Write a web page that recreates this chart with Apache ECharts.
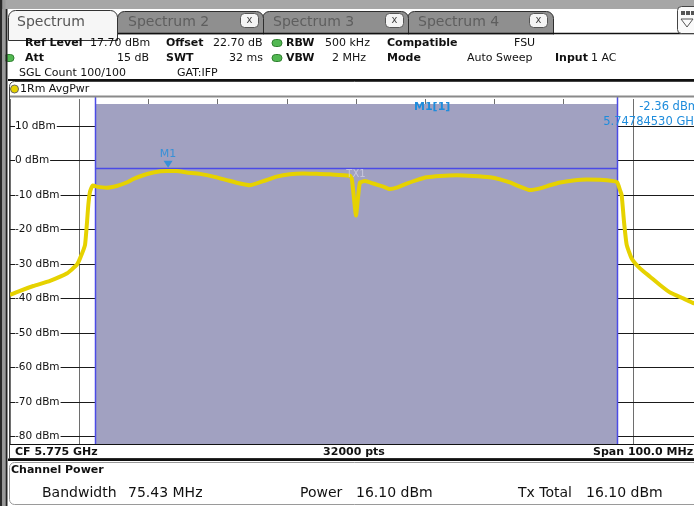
<!DOCTYPE html>
<html><head><meta charset="utf-8">
<script src="https://cdn.jsdelivr.net/npm/echarts@6/dist/echarts.min.js"></script>
<style>html,body{margin:0;padding:0;background:#fff}#c{width:694px;height:506px}</style>
</head><body><div id="c"></div>
<script>
// ---------- data ----------
const centerFreqGHz = 5.775;
const spanMHz = 100;
const refLevelDbm = 17.7;
const bottomLevelDbm = -82.3;
const yTickValues = [10, 0, -10, -20, -30, -40, -50, -60, -70, -80];
const channelBandwidthMHz = 75.43;
const markerFreqGHz = 5.74784530;
const markerLevelDbm = -2.36;
// trace: frequency offset from CF (MHz) and level (dBm)
const traceFreqMHz = [-50, -48.55, -46.63, -44.22, -41.81, -40.36, -39.88, -39.16, -38.68, -38.44,
  -38.05, -37.72, -37.47, -36.03, -34.58, -33.14, -32.18, -30.74, -29.29, -27.36,
  -25.91, -24.47, -22.54, -20.62, -18.69, -16.76, -15.32, -13.4, -11.46, -9.54,
  -7.62, -5.68, -3.76, -1.84, -0.87, -0.62, -0.39, 0, 0.33, 0.58,
  1.30, 2.50, 3.95, 4.91, 5.88, 7.33, 8.77, 10.22, 12.14, 14.55,
  16.95, 19.36, 20.81, 22.25, 23.7, 25.14, 26.59, 28.03, 29.48, 31.4,
  33.34, 35.26, 37.18, 37.76, 38.15, 38.39, 38.73, 39.12, 39.84, 41.04,
  42.49, 43.93, 45.38, 47.3, 48.84, 50];
const traceLevelDbm = [-39.1, -37.9, -36.5, -35.0, -32.9, -30.4, -28.5, -24.6, -13.0, -9.2,
  -7.4, -7.5, -7.7, -8.0, -7.5, -6.5, -5.5, -4.4, -3.6, -3.2,
  -3.2, -3.6, -4.0, -4.8, -5.8, -6.8, -7.3, -6.1, -4.8, -4.1,
  -3.9, -4.0, -4.1, -4.4, -4.6, -5.3, -9.2, -16.1, -10.1, -6.5,
  -6.1, -6.8, -7.7, -8.4, -8.0, -6.8, -5.8, -5.0, -4.6, -4.4,
  -4.6, -5.0, -5.6, -6.5, -7.7, -8.7, -8.2, -7.3, -6.5, -5.9,
  -5.6, -5.7, -6.1, -6.5, -8.7, -10.1, -17.9, -24.6, -28.5, -31.4,
  -33.8, -36.2, -38.4, -40.1, -41.5, -41.8];

// ---------- styles ----------
const FONT = '"DejaVu Sans", Verdana, sans-serif';
const YELLOW = '#e6d200';
const SHADE = '#a1a1c1';
const BLUE_LINE = '#4b4be6';
const MARK_BLUE = '#1e8cdc';

const traceData = traceFreqMHz.map((f, i) => [f, traceLevelDbm[i]]);
const markerOffsetMHz = (markerFreqGHz - centerFreqGHz) * 1000;

const chart = echarts.init(document.getElementById('c'), null, {renderer: 'canvas'});

function T(text, x, y, o) {
  o = o || {};
  return {type: 'text', x: x, y: y, z: o.z || 20, silent: true,
    style: {text: text, font: (o.bold ? 'bold ' : '') + (o.size || 11) + 'px ' + FONT,
      fill: o.color || '#111', align: o.align || 'left', textAlign: o.align || 'left',
      verticalAlign: 'middle', textVerticalAlign: 'middle'}};
}
function R(x, y, w, h, fill, o) {
  o = o || {};
  return {type: 'rect', z: o.z || 10, silent: true, shape: {x: x, y: y, width: w, height: h, r: o.r || 0},
    style: {fill: fill, stroke: o.stroke || null, lineWidth: o.lw || 1}};
}
function L(x1, y1, x2, y2, color, lw, z) {
  return {type: 'line', z: z || 12, silent: true, shape: {x1: x1, y1: y1, x2: x2, y2: y2},
    style: {stroke: color, lineWidth: lw || 1}};
}
function dot(cx, cy) {
  return R(cx - 5, cy - 3.5, 10, 7, '#52b852', {r: 3.5, stroke: '#2f7f2f', z: 15});
}

const elements = [
  // top band & tab bar
  R(0, 0, 694, 9, '#a6a6a6', {z: 5}),
  R(0, 9, 694, 25, '#ffffff', {z: 5}),
  // inactive tabs
  R(407.5, 11.5, 146, 26, '#8f8f8f', {r: [7, 7, 0, 0], stroke: '#2e2e2e', z: 6}),
  R(262.5, 11.5, 146, 26, '#8f8f8f', {r: [7, 7, 0, 0], stroke: '#2e2e2e', z: 7}),
  R(117.5, 11.5, 146, 26, '#8f8f8f', {r: [7, 7, 0, 0], stroke: '#2e2e2e', z: 8}),
  L(117, 33.5, 694, 33.5, '#111', 1.5, 9),
  // active tab
  R(8.5, 10.5, 109, 30, '#f6f6f6', {r: [7, 7, 0, 0], stroke: '#333', z: 9}),
  T('Spectrum', 17, 22, {size: 14, color: '#555'}),
  T('Spectrum 2', 128, 22, {size: 14, color: '#5e5e5e'}),
  T('Spectrum 3', 273, 22, {size: 14, color: '#5e5e5e'}),
  T('Spectrum 4', 418, 22, {size: 14, color: '#5e5e5e'}),
  // close buttons
  R(240.5, 13.5, 18, 14, '#f4f4f4', {r: 4, stroke: '#555', z: 15}), T('x', 249.5, 20, {size: 10, align: 'center', color: '#444'}),
  R(385.5, 13.5, 18, 14, '#f4f4f4', {r: 4, stroke: '#555', z: 15}), T('x', 394.5, 20, {size: 10, align: 'center', color: '#444'}),
  R(529.5, 13.5, 18, 14, '#f4f4f4', {r: 4, stroke: '#555', z: 15}), T('x', 538.5, 20, {size: 10, align: 'center', color: '#444'}),
  // right icon
  R(677.5, 6.5, 22, 27, '#fafafa', {r: 4, stroke: '#444', z: 15}),
  R(681, 11, 4, 4, '#555', {z: 16}), R(686, 11, 4, 4, '#555', {z: 16}), R(691, 11, 4, 4, '#555', {z: 16}),
  {type: 'polygon', z: 16, silent: true, shape: {points: [[681, 19], [693, 19], [687, 27]]}, style: {fill: 'none', stroke: '#555', lineWidth: 1}},
  // header panel
  R(8, 34.5, 686, 45.5, '#ffffff', {z: 8}),
  L(8, 80, 694, 80, '#111', 2, 12),
  T('Ref Level', 25, 43, {bold: true}), T('17.70 dBm', 90, 43),
  T('Offset', 166, 43, {bold: true}), T('22.70 dB', 213, 43),
  dot(277, 43), T('RBW', 286, 43, {bold: true}), T('500 kHz', 325, 43),
  T('Compatible', 387, 43, {bold: true}), T('FSU', 514, 43),
  dot(9, 58), T('Att', 25, 58, {bold: true}), T('15 dB', 149, 58, {align: 'right'}),
  T('SWT', 166, 58, {bold: true}), T('32 ms', 263, 58, {align: 'right'}),
  dot(277, 58), T('VBW', 286, 58, {bold: true}), T('2 MHz', 332, 58),
  T('Mode', 387, 58, {bold: true}), T('Auto Sweep', 467, 58),
  T('Input', 555, 58, {bold: true}), T('1 AC', 591, 58),
  T('SGL Count 100/100', 19, 73), T('GAT:IFP', 177, 73),
  // trace label row
  R(10, 81, 684, 15, '#ffffff', {z: 8}),
  {type: 'rect', z: 12, silent: true, shape: {x: 9.5, y: 81.5, width: 700, height: 377, r: [5, 0, 0, 0]}, style: {fill: 'none', stroke: '#444', lineWidth: 1}},
  {type: 'circle', z: 15, silent: true, shape: {cx: 14.5, cy: 89, r: 4}, style: {fill: YELLOW, stroke: '#666', lineWidth: 1}},
  T('1Rm AvgPwr', 20, 89),
  L(10, 96.5, 694, 96.5, '#8a8a8a', 2, 12),
  // marker readout
  T('M1[1]', 414, 107, {bold: true, color: MARK_BLUE}),
  T(markerLevelDbm.toFixed(2) + ' dBm', 699, 107, {align: 'right', color: MARK_BLUE, size: 11.5}),
  T(markerFreqGHz.toFixed(8) + ' GHz', 700, 122, {align: 'right', color: MARK_BLUE, size: 11.5}),
  // footer
  R(10, 445, 684, 14, '#ffffff', {z: 8}),
  L(10, 444.5, 694, 444.5, '#111', 1, 12),
  T('CF ' + centerFreqGHz.toFixed(3) + ' GHz', 15, 452, {bold: true}),
  T('32000 pts', 354, 452, {bold: true, align: 'center'}),
  T('Span ' + spanMHz.toFixed(1) + ' MHz', 593, 452, {bold: true}),
  R(8, 458.5, 686, 2.5, '#111', {z: 12}),
  R(9.5, 462.5, 700, 42, '#ffffff', {r: 5, stroke: '#9a9a9a', z: 8}),
  T('Channel Power', 11, 470, {bold: true}),
  T('Bandwidth', 42, 493, {size: 14}), T(channelBandwidthMHz.toFixed(2) + ' MHz', 128, 493, {size: 14}),
  T('Power', 300, 493, {size: 14}), T('16.10 dBm', 356, 493, {size: 14}),
  T('Tx Total', 518, 493, {size: 14}), T('16.10 dBm', 586, 493, {size: 14}),
  // left window border
  R(0, 0, 2.5, 506, '#2a2a2a', {z: 30}),
  R(2.5, 0, 3, 506, '#9a9a9a', {z: 30}),
  R(5.5, 9, 2, 497, '#222', {z: 30})
];

const option = {
  animation: false,
  backgroundColor: '#ffffff',
  grid: {left: 10, top: 99, width: 692, height: 345, containLabel: false, show: false, outerBoundsMode: 'none'},
  xAxis: {type: 'value', min: -spanMHz / 2, max: spanMHz / 2, interval: 10,
    axisLine: {show: false}, axisTick: {show: false}, axisLabel: {show: false},
    splitLine: {show: true, lineStyle: {color: '#6e6e6e', width: 1}}},
  yAxis: {type: 'value', min: bottomLevelDbm, max: refLevelDbm,
    axisLine: {show: false}, axisTick: {show: false}, axisLabel: {show: false}, splitLine: {show: false}},
  graphic: {elements: elements},
  series: [
    { // horizontal grid lines + level labels
      type: 'custom', z: 1, silent: true, clip: false,
      data: yTickValues.map(v => [0, v]),
      renderItem: (params, api) => {
        const v = api.value(1);
        const p1 = api.coord([-spanMHz / 2, v]);
        const p2 = api.coord([spanMHz / 2, v]);
        const y = Math.round(p1[1]) + 0.5;
        return {type: 'group', children: [
          {type: 'line', shape: {x1: p1[0], y1: y, x2: p2[0], y2: y}, style: {stroke: '#1a1a1a', lineWidth: 1}},
          {type: 'text', x: p1[0] + 5, y: y, style: {text: v + ' dBm', font: '10.5px ' + FONT, fill: '#111',
            align: 'left', verticalAlign: 'middle', backgroundColor: '#fff', padding: [0, 1, 0, 0]}}
        ]};
      }
    },
    { // channel bandwidth shading + channel edges + marker level line
      type: 'custom', z: 3, silent: true, clip: false,
      data: [[-channelBandwidthMHz / 2, channelBandwidthMHz / 2, markerLevelDbm]],
      renderItem: (params, api) => {
        const cs = params.coordSys;
        const a = api.coord([api.value(0), refLevelDbm]);
        const b = api.coord([api.value(1), refLevelDbm]);
        const m = api.coord([0, api.value(2)]);
        const xa = Math.round(a[0]) + 0.5, xb = Math.round(b[0]) + 0.5, ym = Math.round(m[1]) + 0.5;
        const top = cs.y + 5, bot = cs.y + cs.height;
        return {type: 'group', children: [
          {type: 'rect', shape: {x: xa, y: top, width: xb - xa, height: bot - top}, style: {fill: SHADE}},
          {type: 'line', shape: {x1: xa, y1: cs.y - 2, x2: xa, y2: bot}, style: {stroke: BLUE_LINE, lineWidth: 1.5}},
          {type: 'line', shape: {x1: xb, y1: cs.y - 2, x2: xb, y2: bot}, style: {stroke: BLUE_LINE, lineWidth: 1.5}},
          {type: 'line', shape: {x1: xa, y1: ym, x2: xb, y2: ym}, style: {stroke: BLUE_LINE, lineWidth: 1.5}}
        ]};
      }
    },
    { // spectrum trace
      type: 'line', z: 5, silent: true, data: traceData, symbol: 'none', smooth: 0.15,
      lineStyle: {color: YELLOW, width: 4}, clip: true
    },
    { // marker M1
      type: 'scatter', z: 6, silent: true, data: [[markerOffsetMHz, markerLevelDbm]],
      symbol: 'triangle', symbolRotate: 180, symbolSize: [9, 7], symbolOffset: [0, -4],
      itemStyle: {color: MARK_BLUE},
      label: {show: true, formatter: 'M1', position: 'top', distance: 1, color: MARK_BLUE, fontSize: 11, fontFamily: FONT}
    },
    { // TX1 channel label
      type: 'scatter', z: 6, silent: true, data: [[0, markerLevelDbm]],
      symbolSize: 1, itemStyle: {color: 'rgba(0,0,0,0)'},
      label: {show: true, formatter: 'TX1', position: 'bottom', distance: 1, color: '#d0d0e2', fontSize: 10, fontFamily: FONT}
    }
  ]
};
chart.setOption(option);
</script>
</body></html>
